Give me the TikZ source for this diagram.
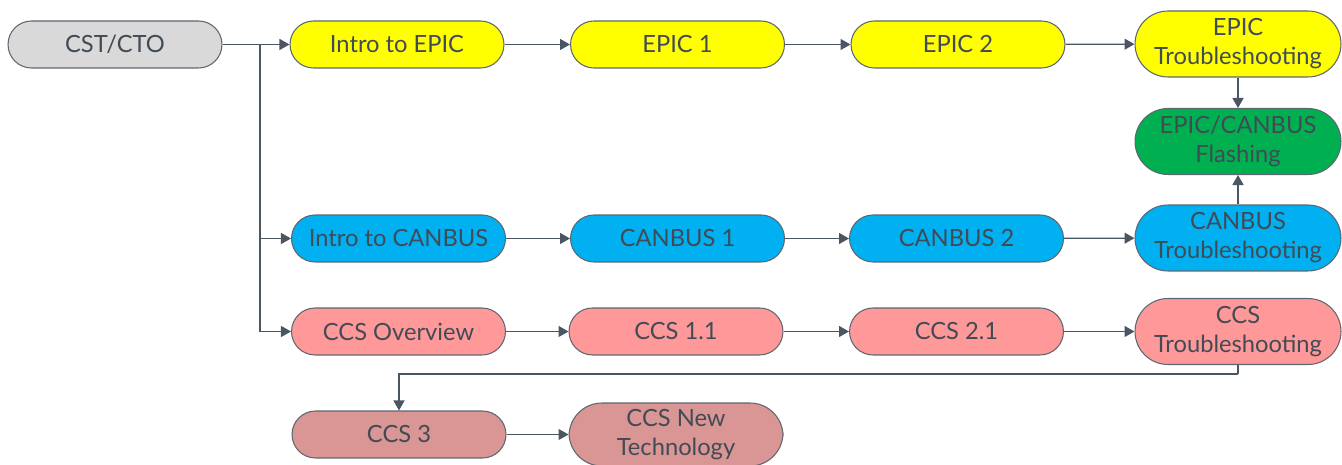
\documentclass[tikz,border=0pt]{standalone}
\usepackage{fontspec}
\setmainfont{Lato}
\usetikzlibrary{arrows.meta}
\definecolor{txt}{HTML}{414B56}
\definecolor{ln}{HTML}{4A5661}
\definecolor{cgray}{HTML}{D9D9D9}
\definecolor{cyel}{HTML}{FFFF00}
\definecolor{cblue}{HTML}{00B0F0}
\definecolor{cgreen}{HTML}{00B050}
\definecolor{cpink}{HTML}{FF9999}
\definecolor{crose}{HTML}{D99694}
\tikzset{
  course/.style={draw=ln!90, line width=0.6pt, text=txt, font=\fontsize{13.5}{16.5}\selectfont,
    minimum width=4.28cm, minimum height=0.94cm, inner sep=0pt, rounded corners=0.47cm, align=center},
  tall/.style={minimum width=4.12cm, minimum height=1.32cm, rounded corners=0.66cm}
}
\begin{document}
\begin{tikzpicture}[x=0.02cm,y=-0.02cm]
    \useasboundingbox (0,0) rectangle (1342,465);

        % Add or remove nodes here, use the tuple for location
        \begin{scope}[every node/.style={course}]
        \node[fill=cgray] (CST) at (115,44.5) {CST/CTO};
        \node[fill=cyel] (IE) at (397,44.5) {Intro to EPIC};
        \node[fill=cyel] (E1) at (677.5,44.5) {EPIC 1};
        \node[fill=cyel] (E2) at (958,44.5) {EPIC 2};
        \node[fill=cyel, tall] (ET) at (1238,44) {EPIC\\Troubleshooting};
        \node[fill=cgreen, tall] (F) at (1238,141.5) {EPIC/CANBUS\\Flashing};
        \node[fill=cblue] (IC) at (398.5,238.5) {Intro to CANBUS};
        \node[fill=cblue] (C1) at (677.5,238.5) {CANBUS 1};
        \node[fill=cblue] (C2) at (956.5,238.5) {CANBUS 2};
        \node[fill=cblue, tall] (CT) at (1238,238) {CANBUS\\Troubleshooting};
        \node[fill=cpink] (CO) at (398.5,331.5) {CCS Overview};
        \node[fill=cpink] (S1) at (676,331.5) {CCS 1.1};
        \node[fill=cpink] (S2) at (956.5,331.5) {CCS 2.1};
        \node[fill=cpink, tall] (ST) at (1238,331.5) {CCS\\Troubleshooting};
        \node[fill=crose] (S3) at (399,434.5) {CCS 3};
        \node[fill=crose, tall, minimum width=4.28cm, minimum height=1.26cm] (SN) at (676,434.5) {CCS New\\Technology};
        \end{scope}

        \coordinate (J) at (260,44.5);
        \coordinate (K) at ([yshift=-0.18cm]ST.south);

        % Remove or add new edges here
        \begin{scope}[>={Triangle[length=0.2cm, width=0.22cm]},
                  every edge/.style={draw=ln, line width=0.75pt}]
        \draw[ln, line width=0.75pt] (CST) -- (J);
        \path [->] (J) edge (IE);
        \path [->] (J) edge[to path={|- (\tikztotarget)}] (IC);
        \path [->] (J) edge[to path={|- (\tikztotarget)}] (CO);
        \path [->] (IE) edge (E1);
        \path [->] (E1) edge (E2);
        \path [->] (E2) edge (ET);
        \path [->] (ET) edge (F);
        \path [->] (IC) edge (C1);
        \path [->] (C1) edge (C2);
        \path [->] (C2) edge (CT);
        \path [->] (CT) edge (F);
        \path [->] (CO) edge (S1);
        \path [->] (S1) edge (S2);
        \path [->] (S2) edge (ST);
        \draw[ln, line width=0.75pt] (ST) -- (K);
        \path [->] (K) edge[to path={-| (\tikztotarget)}] (S3);
        \path [->] (S3) edge (SN);
        \end{scope}

\end{tikzpicture}
\end{document}
